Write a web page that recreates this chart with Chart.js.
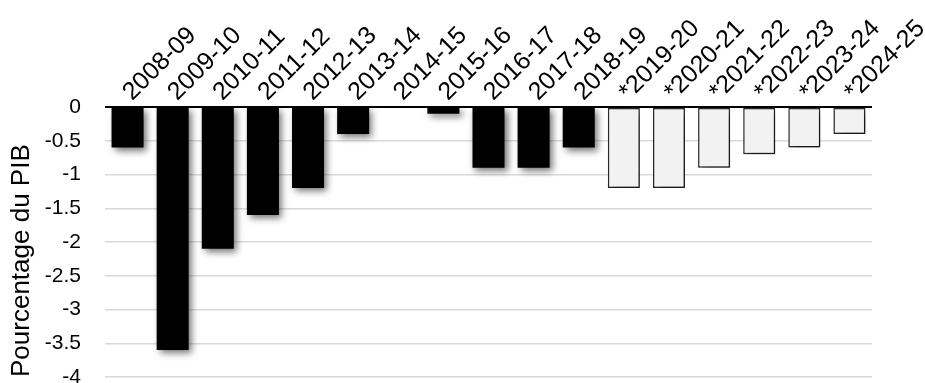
<!DOCTYPE html>
<html lang="fr">
<head>
<meta charset="utf-8">
<title>Solde budgétaire</title>
<script src="https://cdn.jsdelivr.net/npm/chart.js@4/dist/chart.umd.min.js"></script>
<style>
    html, body { margin: 0; padding: 0; background: #fff; overflow: hidden; }
    canvas { display: block; }
</style>
</head>
<body>
<canvas id="soldeBudgetaire" width="925" height="383"></canvas>
<script>
// Exercices (les années marquées * sont des projections)
const annees = ['2008-09', '2009-10', '2010-11', '2011-12', '2012-13', '2013-14', '2014-15', '2015-16',
    '2016-17', '2017-18', '2018-19', '*2019-20', '*2020-21', '*2021-22', '*2022-23', '*2023-24', '*2024-25'];

// Solde en pourcentage du PIB
const soldeReel = [-0.6, -3.6, -2.1, -1.6, -1.2, -0.4, 0, -0.1, -0.9, -0.9, -0.6,
    null, null, null, null, null, null];
const soldeProjete = [null, null, null, null, null, null, null, null, null, null, null,
    -1.2, -1.2, -0.9, -0.7, -0.6, -0.4];

const graduationsY = { min: -4, max: 0, pas: 0.5 };

const police = "'Liberation Sans', Arial, sans-serif";

// Ombre portée sous les barres
const ombreBarres = {
    id: 'ombreBarres',
    beforeDatasetsDraw(chart) {
        const ctx = chart.ctx;
        ctx.save();
        ctx.shadowColor = 'rgba(0, 0, 0, 0.55)';
        ctx.shadowBlur = 7;
        ctx.shadowOffsetX = 3;
        ctx.shadowOffsetY = 3;
    },
    afterDatasetsDraw(chart) {
        chart.ctx.restore();
    }
};

const config = {
    type: 'bar',
    data: {
        labels: annees,
        datasets: [{
            data: soldeReel,
            backgroundColor: '#000000',
            borderWidth: 0,
            barPercentage: 0.71,
            categoryPercentage: 1
        }, {
            data: soldeProjete,
            backgroundColor: '#f2f2f2',
            borderColor: '#2b2b2b',
            borderWidth: 1.5,
            borderSkipped: false,
            barPercentage: 0.71,
            categoryPercentage: 1
        }]
    },
    options: {
        responsive: false,
        animation: false,
        layout: {
            padding: { top: 0, left: 0, right: 53, bottom: 6 }
        },
        plugins: {
            legend: { display: false },
            tooltip: { enabled: false }
        },
        scales: {
            x: {
                position: 'top',
                stacked: true,
                grid: { display: false, drawTicks: false },
                border: { display: false },
                ticks: {
                    autoSkip: false,
                    minRotation: 45,
                    maxRotation: 45,
                    padding: 0,
                    labelOffset: 21,
                    color: '#000',
                    font: { family: police, size: 25 }
                },
                afterFit(scale) {
                    scale.height = 107;
                }
            },
            y: {
                stacked: true,
                min: graduationsY.min,
                max: graduationsY.max,
                grid: {
                    drawTicks: false,
                    color: (ctx) => ctx.tick && ctx.tick.value === 0 ? '#000000' : '#d9d9d9',
                    lineWidth: (ctx) => ctx.tick && ctx.tick.value === 0 ? 2 : 1.5
                },
                border: { display: false },
                ticks: {
                    stepSize: graduationsY.pas,
                    padding: 24,
                    color: '#000',
                    font: { family: police, size: 21 },
                    callback: (valeur) => String(Math.round(valeur * 10) / 10)
                },
                title: {
                    display: true,
                    text: 'Pourcentage du PIB',
                    align: 'start',
                    color: '#000',
                    font: { family: police, size: 26 },
                    padding: { top: 6, bottom: 0 }
                },
                afterFit(scale) {
                    // l'étiquette -4 peut déborder sous le bord du canevas
                    scale.width = 105;
                    scale.paddingTop = 0;
                    scale.paddingBottom = 0;
                }
            }
        }
    },
    plugins: [ombreBarres]
};

let chart;

document.addEventListener('DOMContentLoaded', () => {
    const canvas = document.getElementById('soldeBudgetaire');
    if (canvas) {
        chart = new Chart(canvas, config);
    }
});
</script>
</body>
</html>
